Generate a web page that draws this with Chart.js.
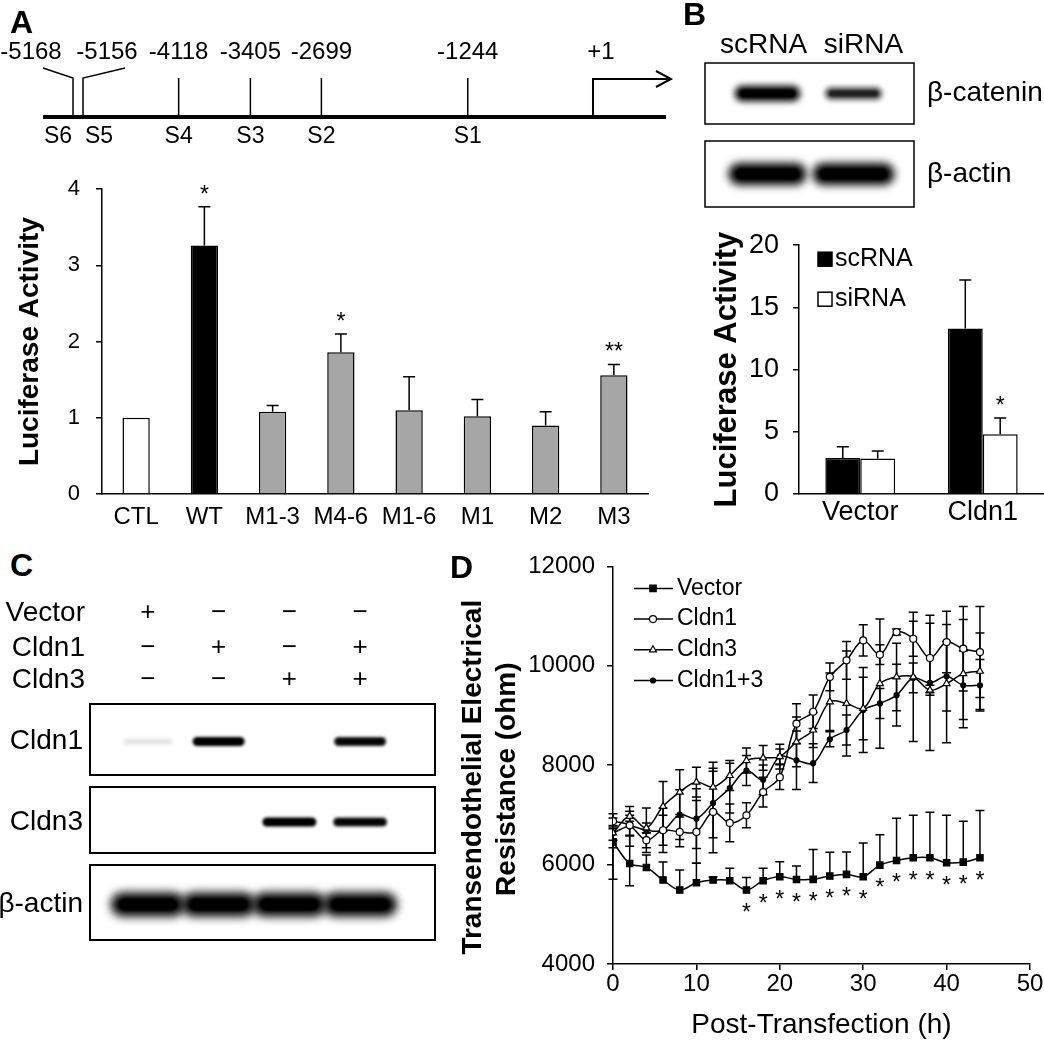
<!DOCTYPE html>
<html>
<head>
<meta charset="utf-8">
<title>Cldn1 promoter and TEER</title>
<script src="https://cdn.jsdelivr.net/npm/chart.js@4.4.1/dist/chart.umd.min.js"></script>
<style>
  html, body { margin: 0; padding: 0; background: #fff; }
  #fig { position: relative; width: 1044px; height: 1050px; overflow: hidden; }
  #fig canvas { position: absolute; }
  .tag { position: absolute; font: bold 32px/32px 'Liberation Sans', Arial, sans-serif; color: #000; }
</style>
</head>
<body>
<div id="fig">
  <canvas id="mapA" width="680" height="160" style="left:0;top:0;width:680px;height:160px"></canvas>
  <canvas id="lucA" width="660" height="380" style="left:0;top:160px;width:660px;height:380px"></canvas>
  <canvas id="blotB" width="364" height="195" style="left:680px;top:20px;width:364px;height:195px"></canvas>
  <canvas id="lucB" width="364" height="335" style="left:680px;top:215px;width:364px;height:335px"></canvas>
  <canvas id="blotC" width="440" height="360" style="left:0;top:590px;width:440px;height:360px"></canvas>
  <canvas id="teer" width="604" height="510" style="left:440px;top:540px;width:604px;height:510px"></canvas>
  <div class="tag" style="left:10px;top:6px">A</div>
  <div class="tag" style="left:683px;top:-2px">B</div>
  <div class="tag" style="left:10px;top:549px">C</div>
  <div class="tag" style="left:450px;top:551px">D</div>
</div>
<script>
// ---- panel A: promoter sites ----
const siteNames = ['S1', 'S2', 'S3', 'S4', 'S5', 'S6'];
const sitePos = [-1244, -2699, -3405, -4118, -5156, -5168];

// ---- panel A: luciferase of promoter mutants ----
const constructs = ['CTL', 'WT', 'M1-3', 'M4-6', 'M1-6', 'M1', 'M2', 'M3'];
const lucA = [1.0, 3.26, 1.08, 1.86, 1.10, 1.02, 0.90, 1.56];
const lucAErr = [0, 0.51, 0.08, 0.24, 0.44, 0.22, 0.18, 0.14];
const lucASig = ['', '*', '', '*', '', '', '', '**'];

// ---- panel B ----
const lanesB = ['scRNA', 'siRNA'];
const blotRowsB = ['β-catenin', 'β-actin'];
const bCatenin = [0.95, 0.65];
const bActinB = [1, 1];
const groupsB = ['Vector', 'Cldn1'];
const lucSc = [2.9, 13.3];
const lucScErr = [0.9, 3.9];
const lucSi = [2.85, 4.8];
const lucSiErr = [0.6, 1.3];
const lucSiSig = ['', '*'];

// ---- panel C ----
const treatRows = ['Vector', 'Cldn1', 'Cldn3'];
const treatSigns = [
  ['+', '−', '−', '−'],
  ['−', '+', '−', '+'],
  ['−', '−', '+', '+']
];
const blotRowsC = ['Cldn1', 'Cldn3', 'β-actin'];
const cldn1Band = [0.05, 1, 0, 0.9];
const cldn3Band = [0, 0, 1, 0.9];
const actinBandC = [1, 1, 1, 1];

// ---- panel D: TEER ----
const hours = [0, 2, 4, 6, 8, 10, 12, 14, 16, 18, 20, 22, 24, 26, 28, 30, 32, 34, 36, 38, 40, 42, 44];
const tVector = [6457, 6023, 5943, 5690, 5489, 5636, 5690, 5676, 5489, 5676, 5756, 5700, 5703, 5770, 5803, 5756, 5990, 6084, 6137, 6137, 6037, 6050, 6137];
const tVectorUp = [300, 550, 250, 360, 400, 390, 60, 250, 250, 250, 300, 270, 600, 480, 450, 680, 610, 850, 855, 915, 955, 820, 950];
const tVectorDown = [750, 450, 0, 0, 0, 0, 0, 0, 0, 0, 0, 0, 0, 0, 0, 0, 0, 0, 0, 0, 0, 0, 0];
const tVectorSig = ['', '', '', '', '', '', '', '', '*', '*', '*', '*', '*', '*', '*', '*', '*', '*', '*', '*', '*', '*', '*'];
const tCldn1 = [6872, 6791, 6491, 6691, 6658, 6658, 7059, 6838, 6992, 7459, 7760, 8835, 9075, 9776, 10110, 10511, 10224, 10678, 10544, 10157, 10478, 10344, 10277];
const tCldn1Err = [150, 200, 150, 300, 300, 630, 820, 380, 250, 300, 250, 400, 335, 280, 380, 315, 200, 60, 350, 700, 620, 850, 915];
const tCldn3 = [6638, 6972, 6738, 7172, 7459, 7660, 7560, 7793, 8094, 8147, 8174, 8468, 8708, 9276, 9242, 9142, 9643, 9776, 9776, 9509, 9643, 9843, 9890];
const tCldn3Err = [150, 100, 100, 500, 450, 300, 500, 300, 250, 250, 150, 500, 350, 580, 1055, 630, 1300, 680, 1300, 100, 1190, 1090, 770];
const tCldn13 = [6638, 6771, 6691, 6691, 7005, 6925, 7239, 7539, 7893, 7706, 8174, 8100, 8040, 8521, 8708, 9109, 9242, 9409, 9756, 9656, 9790, 9609, 9609];
const tCldn13Err = [300, 400, 450, 450, 500, 600, 700, 500, 300, 300, 250, 590, 390, 150, 300, 855, 300, 620, 300, 1360, 700, 690, 520];
const teerTitle = ['Transendothelial Electrical', 'Resistance (ohm)'];

const FONT = "'Liberation Sans', Arial, sans-serif";
Chart.defaults.font.family = FONT;
Chart.defaults.color = '#000';
Chart.defaults.animation = false;
Chart.defaults.responsive = false;
Chart.defaults.devicePixelRatio = 1;
Chart.defaults.plugins.legend.display = false;
Chart.defaults.plugins.tooltip.enabled = false;

function text(ctx, str, x, y, size, align, bold) {
  ctx.save();
  ctx.font = (bold ? 'bold ' : '') + size + 'px ' + FONT;
  ctx.textAlign = align || 'center';
  ctx.textBaseline = 'middle';
  ctx.fillStyle = '#000';
  ctx.fillText(str, x, y);
  ctx.restore();
}

// asterisk glyph sits high, so place it by its visual centre
function star(ctx, str, x, yc) {
  ctx.save();
  ctx.font = '23px ' + FONT;
  ctx.textAlign = 'center';
  ctx.textBaseline = 'alphabetic';
  ctx.fillStyle = '#000';
  ctx.fillText(str, x, yc + 13);
  ctx.restore();
}

function band(ctx, cx, cy, w, h, level) {
  if (level <= 0) return;
  ctx.save();
  ctx.fillStyle = 'rgba(0,0,0,' + level + ')';
  ctx.filter = 'blur(' + Math.max(1.5, h / 5) + 'px)';
  ctx.beginPath();
  ctx.roundRect(cx - w / 2, cy - h / 2, w, h, h / 2);
  ctx.fill();
  ctx.filter = 'blur(1px)';
  ctx.beginPath();
  ctx.roundRect(cx - w / 2 + h / 3, cy - h / 4, w - 2 * h / 3, h / 2, h / 4);
  ctx.fill();
  ctx.restore();
}

function marker(ctx, style, x, y, r, fill) {
  ctx.save();
  ctx.fillStyle = fill;
  ctx.strokeStyle = '#000';
  ctx.lineWidth = 1.2;
  ctx.beginPath();
  if (style === 'rect') {
    const s = r * Math.SQRT1_2;
    ctx.rect(x - s, y - s, 2 * s, 2 * s);
  } else if (style === 'triangle') {
    for (let k = 0; k < 3; k++) {
      const a = k * 2 * Math.PI / 3;
      const px = x + Math.sin(a) * r, py = y - Math.cos(a) * r;
      k ? ctx.lineTo(px, py) : ctx.moveTo(px, py);
    }
    ctx.closePath();
  } else {
    ctx.arc(x, y, r, 0, Math.PI * 2);
  }
  ctx.fill();
  ctx.stroke();
  ctx.restore();
}

function yAxis(min, max, step, size, width, pad, title, titleSize, titlePad) {
  return {
    min: min, max: max,
    ticks: { stepSize: step, font: { size: size }, padding: pad, color: '#000', callback: v => String(v) },
    grid: { drawOnChartArea: false, color: '#000', lineWidth: 1.5, tickLength: 6 },
    border: { color: '#000', width: 1.5 },
    title: { display: !!title, text: title || '', color: '#000',
             font: { size: titleSize, weight: 'bold' }, padding: { top: titlePad, bottom: 0 } },
    afterFit(s) { s.width = width; }
  };
}

function catAxis(size, pad, height) {
  return {
    grid: { display: false, drawTicks: false },
    border: { display: true, color: '#000', width: 1.5 },
    ticks: { font: { size: size }, padding: pad, color: '#000', autoSkip: false, maxRotation: 0 },
    afterFit(s) { s.height = height; }
  };
}

const barErrors = {
  id: 'barErrors',
  afterDatasetsDraw(chart) {
    const ctx = chart.ctx, y = chart.scales.y;
    chart.data.datasets.forEach((ds, di) => {
      chart.getDatasetMeta(di).data.forEach((bar, i) => {
        const e = ds.err ? ds.err[i] : 0;
        const top = y.getPixelForValue(ds.data[i] + e);
        if (e > 0) {
          ctx.save();
          ctx.strokeStyle = '#000';
          ctx.lineWidth = 1.5;
          ctx.beginPath();
          ctx.moveTo(bar.x, bar.y); ctx.lineTo(bar.x, top);
          ctx.moveTo(bar.x - 6, top); ctx.lineTo(bar.x + 6, top);
          ctx.stroke();
          ctx.restore();
        }
        if (ds.sig && ds.sig[i]) star(ctx, ds.sig[i], bar.x, top - 18);
      });
    });
  }
};

// ---- A: promoter map ----
const promoterMap = {
  id: 'promoterMap',
  afterDraw(chart) {
    const ctx = chart.ctx, x = chart.scales.x;
    const LINE_Y = 117, TOP_Y = 78, NUM_Y = 52, LAB_Y = 137;
    const tss = x.getPixelForValue(1);
    const order = sitePos.map((p, i) => i).sort((a, b) => sitePos[a] - sitePos[b]);
    const px = {};
    let prev = -Infinity;
    order.forEach(i => { px[i] = Math.max(x.getPixelForValue(sitePos[i]), prev + 10); prev = px[i]; });

    ctx.save();
    ctx.strokeStyle = '#000';
    ctx.lineWidth = 1.5;
    order.forEach((i, k) => {
      const p = px[i];
      const leftGap = k > 0 ? p - px[order[k - 1]] : Infinity;
      const rightGap = k < order.length - 1 ? px[order[k + 1]] - p : Infinity;
      let numX = p, labX = p;
      ctx.beginPath();
      ctx.moveTo(p, LINE_Y);
      ctx.lineTo(p, TOP_Y);
      if (rightGap < 20) { ctx.lineTo(p - 30, TOP_Y - 10); numX = p - 42; labX = p - 15; }
      else if (leftGap < 20) { ctx.lineTo(p + 42, TOP_Y - 10); numX = p + 24; labX = p + 16; }
      ctx.stroke();
      text(ctx, String(sitePos[i]), numX, NUM_Y, 24);
      text(ctx, siteNames[i], labX, LAB_Y, 23);
    });

    ctx.lineWidth = 2;
    ctx.beginPath();
    ctx.moveTo(tss, LINE_Y); ctx.lineTo(tss, TOP_Y + 1); ctx.lineTo(tss + 78, TOP_Y + 1);
    ctx.moveTo(tss + 63, TOP_Y - 7); ctx.lineTo(tss + 78, TOP_Y + 1); ctx.lineTo(tss + 63, TOP_Y + 9);
    ctx.stroke();
    text(ctx, '+1', tss + 8, NUM_Y, 24);

    ctx.lineWidth = 4;
    ctx.beginPath();
    ctx.moveTo(px[order[0]] - 30, LINE_Y); ctx.lineTo(tss + 73, LINE_Y);
    ctx.stroke();
    ctx.restore();
  }
};

new Chart(document.getElementById('mapA'), {
  type: 'scatter',
  data: { datasets: [] },
  options: {
    layout: { padding: 0 },
    scales: {
      x: { type: 'linear', display: false, min: -5894, max: 866 },
      y: { display: false }
    }
  },
  plugins: [promoterMap]
});

// ---- A: bar chart ----
new Chart(document.getElementById('lucA'), {
  type: 'bar',
  data: {
    labels: constructs,
    datasets: [{
      data: lucA, err: lucAErr, sig: lucASig,
      backgroundColor: constructs.map(c => c === 'CTL' ? '#fff' : c === 'WT' ? '#000' : '#a6a6a6'),
      borderColor: '#000', borderWidth: 1.5,
      barPercentage: 0.4, categoryPercentage: 1
    }]
  },
  options: {
    layout: { padding: { top: 25, right: 12, left: 0, bottom: 0 } },
    scales: {
      x: catAxis(24, 9, 46),
      y: yAxis(0, 4, 1, 22, 102, 16, 'Luciferase Activity', 28, 13)
    }
  },
  plugins: [barErrors]
});

// ---- B: western blot ----
new Chart(document.getElementById('blotB'), {
  type: 'scatter',
  data: { datasets: [] },
  options: {
    layout: { padding: { left: 44.5, right: 147.5, top: 0, bottom: 0 } },
    scales: {
      x: { type: 'linear', display: false, min: 0.5, max: lanesB.length + 0.5 },
      y: { display: false }
    }
  },
  plugins: [{
    id: 'blotB',
    afterDraw(chart) {
      const ctx = chart.ctx, x = chart.scales.x;
      lanesB.forEach((l, i) => text(ctx, l, x.getPixelForValue(i + 1) + (i ? 10 : -4), 25, 28));
      const boxes = [[43, 104], [121, 187]];
      const bands = [bCatenin, bActinB];
      const bw = [[66, 58], [78, 82]], bh = [[16, 13], [22, 22]];
      blotRowsB.forEach((name, r) => {
        const t = boxes[r][0], b = boxes[r][1], cy = (t + b) / 2;
        ctx.save();
        ctx.strokeStyle = '#000';
        ctx.lineWidth = 1.5;
        ctx.strokeRect(25, t, 209, b - t);
        ctx.restore();
        bands[r].forEach((v, i) => band(ctx, x.getPixelForValue(i + 1), cy, bw[r][i], bh[r][i], v));
        text(ctx, name, 247, cy, 28, 'left');
      });
    }
  }]
});

// ---- B: bar chart ----
new Chart(document.getElementById('lucB'), {
  type: 'bar',
  data: {
    labels: groupsB,
    datasets: [
      { label: 'scRNA', data: lucSc, err: lucScErr, backgroundColor: '#000', borderColor: '#000',
        borderWidth: 1.5, barPercentage: 1, categoryPercentage: 0.57 },
      { label: 'siRNA', data: lucSi, err: lucSiErr, sig: lucSiSig, backgroundColor: '#fff', borderColor: '#000',
        borderWidth: 1.5, barPercentage: 1, categoryPercentage: 0.57 }
    ]
  },
  options: {
    layout: { padding: { top: 21, right: 0, left: 0, bottom: 0 } },
    scales: {
      x: catAxis(27, 2, 56),
      y: yAxis(0, 20, 5, 27, 119, 14, 'Luciferase Activity', 31, 29)
    }
  },
  plugins: [barErrors, {
    id: 'legendB',
    afterDraw(chart) {
      const ctx = chart.ctx, a = chart.chartArea;
      chart.data.datasets.forEach((ds, i) => {
        const y = a.top + 14 + i * 40;
        ctx.save();
        ctx.fillStyle = ds.backgroundColor;
        ctx.strokeStyle = '#000';
        ctx.lineWidth = 1.5;
        ctx.fillRect(a.left + 19, y - 7, 14, 14);
        ctx.strokeRect(a.left + 19, y - 7, 14, 14);
        ctx.restore();
        text(ctx, ds.label, a.left + 36, y, 25, 'left');
      });
    }
  }]
});

// ---- C: western blot ----
new Chart(document.getElementById('blotC'), {
  type: 'scatter',
  data: { datasets: [] },
  options: {
    layout: { padding: { left: 112.5, right: 44.5, top: 0, bottom: 0 } },
    scales: {
      x: { type: 'linear', display: false, min: 0.5, max: 4.5 },
      y: { display: false }
    }
  },
  plugins: [{
    id: 'blotC',
    afterDraw(chart) {
      const ctx = chart.ctx, x = chart.scales.x;
      const rowY = [23, 58, 90];
      treatRows.forEach((name, r) => {
        text(ctx, name, 85, rowY[r], 28, 'right');
        treatSigns[r].forEach((s, i) => text(ctx, s, x.getPixelForValue(i + 1), rowY[r], 26));
      });
      const boxes = [[114, 185], [197, 263], [275, 350]];
      const bands = [cldn1Band, cldn3Band, actinBandC];
      const bw = [52, 54, 74], bh = [9, 9, 24];
      blotRowsC.forEach((name, r) => {
        const t = boxes[r][0], b = boxes[r][1], cy = (t + b) / 2;
        ctx.save();
        ctx.strokeStyle = '#000';
        ctx.lineWidth = 2;
        ctx.strokeRect(90, t, 345, b - t);
        ctx.restore();
        bands[r].forEach((v, i) => band(ctx, x.getPixelForValue(i + 1), cy + 2, bw[r], bh[r], v));
        text(ctx, name, 83, cy + 2, 28, 'right');
      });
    }
  }]
});

// ---- D: TEER ----
function teerSet(label, values, up, down, style, radius, fill) {
  return {
    label: label,
    data: values.map((v, i) => ({ x: hours[i], y: v })),
    errUp: up, errDown: down,
    borderColor: '#000', borderWidth: 1.5, tension: 0.35,
    pointStyle: style, pointRadius: radius,
    pointBackgroundColor: fill, pointBorderColor: '#000', pointBorderWidth: 1.2
  };
}

const teerDecor = {
  id: 'teerDecor',
  beforeDatasetsDraw(chart) {
    const ctx = chart.ctx, x = chart.scales.x, y = chart.scales.y;
    ctx.save();
    ctx.strokeStyle = '#000';
    ctx.lineWidth = 1.5;
    chart.data.datasets.forEach(ds => {
      ds.data.forEach((p, i) => {
        const px = x.getPixelForValue(p.x);
        const u = ds.errUp[i], d = ds.errDown[i];
        const yTop = y.getPixelForValue(p.y + u), yBot = y.getPixelForValue(p.y - d);
        ctx.beginPath();
        ctx.moveTo(px, yTop); ctx.lineTo(px, yBot);
        if (u > 0) { ctx.moveTo(px - 4.5, yTop); ctx.lineTo(px + 4.5, yTop); }
        if (d > 0) { ctx.moveTo(px - 4.5, yBot); ctx.lineTo(px + 4.5, yBot); }
        ctx.stroke();
      });
    });
    ctx.restore();
  },
  afterDatasetsDraw(chart) {
    const ctx = chart.ctx, x = chart.scales.x, y = chart.scales.y;
    tVectorSig.forEach((s, i) => {
      if (s) star(ctx, s, x.getPixelForValue(hours[i]), y.getPixelForValue(tVector[i]) + 17);
    });
  },
  afterDraw(chart) {
    const ctx = chart.ctx, a = chart.chartArea;
    chart.data.datasets.forEach((ds, i) => {
      const y = a.top + 22 + i * 30.7;
      ctx.save();
      ctx.strokeStyle = '#000';
      ctx.lineWidth = 1.5;
      ctx.beginPath();
      ctx.moveTo(a.left + 21, y); ctx.lineTo(a.left + 60, y);
      ctx.stroke();
      ctx.restore();
      marker(ctx, ds.pointStyle, a.left + 40, y, ds.pointRadius, ds.pointBackgroundColor);
      text(ctx, ds.label, a.left + 64, y, 23, 'left');
    });
    // two-line y title, a little below the axis middle as in the original
    const cy = (a.top + a.bottom) / 2 + 12;
    ctx.save();
    ctx.translate(33, cy);
    ctx.rotate(-Math.PI / 2);
    teerTitle.forEach((line, k) => text(ctx, line, k ? -2 : 0, k * 34, 28, 'center', true));
    ctx.restore();
  }
};

new Chart(document.getElementById('teer'), {
  type: 'line',
  data: {
    datasets: [
      teerSet('Vector', tVector, tVectorUp, tVectorDown, 'rect', 4.5, '#000'),
      teerSet('Cldn1', tCldn1, tCldn1Err, tCldn1Err, 'circle', 3.5, '#fff'),
      teerSet('Cldn3', tCldn3, tCldn3Err, tCldn3Err, 'triangle', 4, '#fff'),
      teerSet('Cldn1+3', tCldn13, tCldn13Err, tCldn13Err, 'circle', 2.5, '#000')
    ]
  },
  options: {
    layout: { padding: { top: 25, right: 14, left: 0, bottom: 0 } },
    scales: {
      x: {
        type: 'linear', min: 0, max: 50,
        ticks: { stepSize: 10, font: { size: 24 }, padding: 0, color: '#000' },
        grid: { drawOnChartArea: false, color: '#000', lineWidth: 1.5, tickLength: 6 },
        border: { color: '#000', width: 1.5 },
        title: { display: true, text: 'Post-Transfection (h)', color: '#000',
                 font: { size: 28 }, padding: { top: 0, bottom: 8 } },
        afterFit(s) { s.height = 86; }
      },
      y: yAxis(4000, 12000, 2000, 24, 173, 12, null, 28, 0)
    }
  },
  plugins: [teerDecor]
});
</script>
</body>
</html>
